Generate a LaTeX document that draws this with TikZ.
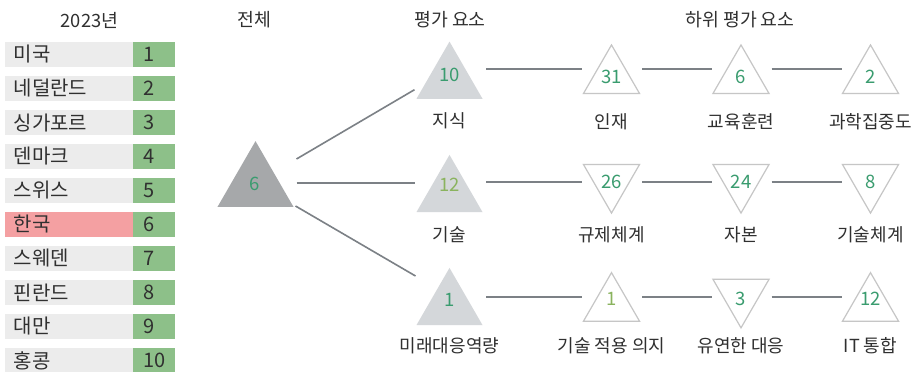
\documentclass[tikz,border=0pt]{standalone}
\usepackage{fontspec}
\setmainfont{Noto Sans CJK KR}
\usetikzlibrary{shapes.geometric,calc}
\definecolor{txt}{HTML}{303030}
\definecolor{rowgray}{HTML}{ECECEC}
\definecolor{rowgreen}{HTML}{8DC089}
\definecolor{rowpink}{HTML}{F4A0A2}
\definecolor{bigfill}{HTML}{A6A8AA}
\definecolor{trifill}{HTML}{D4D7DA}
\definecolor{tristroke}{HTML}{C6C6C6}
\definecolor{connc}{HTML}{7C8186}
\definecolor{numgreen}{HTML}{3A9C6F}
\definecolor{numolive}{HTML}{8AB35E}
\tikzset{
  hdr/.style={text=txt, font=\fontsize{18.3}{20}\selectfont, inner sep=0pt},
  lbl/.style={text=txt, font=\fontsize{18}{20}\selectfont, inner sep=0pt},
  tlabel/.style={text=txt, font=\fontsize{20}{22}\selectfont, inner sep=0pt, anchor=west},
  tnum/.style={text=txt, font=\fontsize{20}{22}\selectfont, inner sep=0pt, anchor=west},
  num/.style={text=numgreen, font=\fontsize{18.5}{20}\selectfont, inner sep=0pt},
  numo/.style={num, text=numolive},
  bigtri/.style={regular polygon, regular polygon sides=3, minimum size=87.8pt, inner sep=0pt, fill=bigfill},
  ftri/.style={regular polygon, regular polygon sides=3, minimum size=76.2pt, inner sep=0pt, fill=trifill},
  utri/.style={regular polygon, regular polygon sides=3, minimum size=64.7pt, inner sep=0pt, draw=tristroke, line width=1.2pt, fill=white},
  dtri/.style={utri, shape border rotate=180},
  conn/.style={draw=connc, line width=2pt},
  conn2/.style={draw=connc, line width=1.6pt},
}
\begin{document}
\begin{tikzpicture}[x=1pt,y=-1pt]
\useasboundingbox (0,0) rectangle (916,372);
\fill[white] (0,0) rectangle (916,372);

% headers
\node[hdr] (h0) at (89.5,20.5) {2023년};
\node[hdr] (h1) at (254,20) {전체};
\node[hdr] (h2) at (450,20) {평가 요소};
\node[hdr] (h3) at (740,20) {하위 평가 요소};

% ranking table
\foreach \i/\nm in {1/미국,2/네덜란드,3/싱가포르,4/덴마크,5/스위스,6/한국,7/스웨덴,8/핀란드,9/대만,10/홍콩}{
  \pgfmathsetmacro\yt{42+34*(\i-1)}
  \ifnum\i=6 \def\bc{rowpink}\else\def\bc{rowgray}\fi
  \fill[\bc] (5,\yt) rectangle (133,\yt+25);
  \fill[rowgreen] (133,\yt) rectangle (175,\yt+25);
  \node[tlabel] (c\i) at (13.5,\yt+12.5) {\nm};
  \node[tnum] (k\i) at (143,\yt+12.5) {\i};
}

% row coordinates
\coordinate (r1) at (0,69);
\coordinate (r2) at (0,182);
\coordinate (r3) at (0,297);

% overall
\node[bigtri] (big) at (255.5,185) {};
\node[num] (nbig) at (254.5,184) {6};

% level 2
\node[ftri] (t10) at (449.5,79.7) {};
\node[ftri] (t12) at (449.5,193) {};
\node[ftri] (t1) at (449.5,306) {};
\node[num] (n10) at (449.5,75) {10};
\node[numo] (n12) at (449.5,185) {12};
\node[num] (n1) at (449.5,300) {1};
\node[lbl] (l10) at (449.5,121) {지식};
\node[lbl] (l12) at (449.5,235) {기술};
\node[lbl] (l1) at (449.5,346) {미래대응역량};

% level 3, row 1
\node[utri] (s31) at (611.5,77.3) {};
\node[utri] (s6) at (741,77.3) {};
\node[utri] (s2) at (870.5,77.3) {};
\node[num] (m31) at (611.5,77) {31};
\node[num] (m6) at (741,77) {6};
\node[num] (m2) at (870.5,77) {2};
\node[lbl] (q31) at (611.5,122) {인재};
\node[lbl] (q6) at (741,122) {교육훈련};
\node[lbl] (q2) at (870.5,122) {과학집중도};

% level 3, row 2
\node[dtri] (s26) at (611.5,180.7) {};
\node[dtri] (s24) at (741,180.7) {};
\node[dtri] (s8) at (870.5,180.7) {};
\node[num] (m26) at (611.5,182) {26};
\node[num] (m24) at (741,182) {24};
\node[num] (m8) at (870.5,182) {8};
\node[lbl] (q26) at (611.5,235) {규제체계};
\node[lbl] (q24) at (741,235) {자본};
\node[lbl] (q8) at (870.5,235) {기술체계};

% level 3, row 3
\node[utri] (s1) at (611.5,305) {};
\node[dtri] (s3) at (741,295.5) {};
\node[utri] (s12) at (870.5,305) {};
\node[numo] (m1) at (611.5,298.5) {1};
\node[num] (m3) at (741,298.5) {3};
\node[num] (m12) at (870.5,298.5) {12};
\node[lbl] (q1) at (611.5,346) {기술 적용 의지};
\node[lbl] (q3) at (741,346) {유연한 대응};
\node[lbl] (q12) at (870.5,346) {IT 통합};

% connectors from overall
\draw[conn2] ($(big.center)+(41,-26)$) -- ($(t10.center)+(-35,10)$);
\draw[conn2] ($(big.center)+(41,-2)$) -- ($(t12.center)+(-35,-10)$);
\draw[conn2] ($(big.center)+(40,21)$) -- ($(t1.center)+(-34,-30)$);

% row connectors
\draw[conn, shorten <=36.5pt, shorten >=29.5pt] (t10.center |- r1) -- (s31.center |- r1);
\draw[conn, shorten <=30.5pt, shorten >=29pt] (s31.center |- r1) -- (s6.center |- r1);
\draw[conn, shorten <=30.5pt, shorten >=29pt] (s6.center |- r1) -- (s2.center |- r1);
\draw[conn, shorten <=36.5pt, shorten >=29.5pt] (t12.center |- r2) -- (s26.center |- r2);
\draw[conn, shorten <=30.5pt, shorten >=29pt] (s26.center |- r2) -- (s24.center |- r2);
\draw[conn, shorten <=30.5pt, shorten >=29pt] (s24.center |- r2) -- (s8.center |- r2);
\draw[conn, shorten <=36.5pt, shorten >=29.5pt] (t1.center |- r3) -- (s1.center |- r3);
\draw[conn, shorten <=30.5pt, shorten >=29pt] (s1.center |- r3) -- (s3.center |- r3);
\draw[conn, shorten <=30.5pt, shorten >=29pt] (s3.center |- r3) -- (s12.center |- r3);
\end{tikzpicture}
\end{document}
